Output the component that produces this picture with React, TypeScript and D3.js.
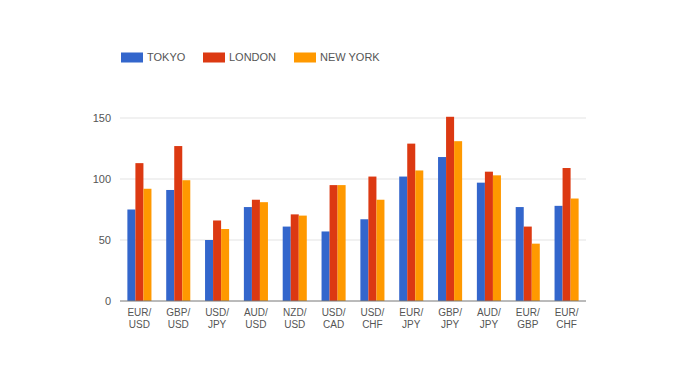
import React from "react";
import * as d3 from "d3";

const categories = ["EUR/USD", "GBP/USD", "USD/JPY", "AUD/USD", "NZD/USD", "USD/CAD", "USD/CHF", "EUR/JPY", "GBP/JPY", "AUD/JPY", "EUR/GBP", "EUR/CHF"];
const seriesNames = ["TOKYO", "LONDON", "NEW YORK"];
const tokyo = [75, 91, 50, 77, 61, 57, 67, 102, 118, 97, 77, 78];
const london = [113, 127, 66, 83, 71, 95, 102, 129, 151, 106, 61, 109];
const newYork = [92, 99, 59, 81, 70, 95, 83, 107, 131, 103, 47, 84];
const yTicks = [0, 50, 100, 150];
const colors = ["#3366cc", "#dc3912", "#ff9900"];

const W = 696, H = 381;
const left = 120, right = 586, top = 118, bottom = 301;

export default function App() {
  const series = [tokyo, london, newYork];
  const x = d3.scaleBand<string>().domain(categories).range([left, right]).paddingInner(0.38).paddingOuter(0.19);
  const xs = d3.scaleBand<string>().domain(seriesNames).range([0, x.bandwidth()]);
  const y = d3.scaleLinear().domain([0, 150]).range([bottom, top]);
  const font = "Arial, 'Liberation Sans', sans-serif";
  const legendX = [121, 203, 294];
  return (
    <svg width={W} height={H} style={{ position: "absolute", left: 0, top: 0, background: "#fff" }} fontFamily={font}>
      <rect width={W} height={H} fill="#fff" />
      {yTicks.filter(t => t > 0).map(t => (
        <line key={t} x1={left} x2={right} y1={y(t)} y2={y(t)} stroke="#e3e3e3" strokeWidth={1} />
      ))}
      {yTicks.map(t => (
        <text key={t} x={111} y={y(t)} dy="0.35em" textAnchor="end" fontSize={11} fill="#555">{t}</text>
      ))}
      {categories.map((c, i) => (
        <g key={c}>
          {series.map((s, k) => (
            <rect key={k} x={(x(c) as number) + (xs(seriesNames[k]) as number)} width={xs.bandwidth()} y={y(s[i])} height={y(0) - y(s[i])} fill={colors[k]} />
          ))}
          {c.split("/").map((part, j) => (
            <text key={j} x={(x(c) as number) + x.bandwidth() / 2} y={312 + j * 12} dy="0.35em" textAnchor="middle" fontSize={10} fill="#555">
              {j === 0 ? part + "/" : part}
            </text>
          ))}
        </g>
      ))}
      <line x1={left} x2={right} y1={bottom} y2={bottom} stroke="#777" strokeWidth={1} />
      {seriesNames.map((n, k) => (
        <g key={n}>
          <rect x={legendX[k]} y={52.5} width={22} height={10} fill={colors[k]} />
          <text x={legendX[k] + 26} y={57.5} dy="0.35em" fontSize={11} fill="#555">{n}</text>
        </g>
      ))}
    </svg>
  );
}
